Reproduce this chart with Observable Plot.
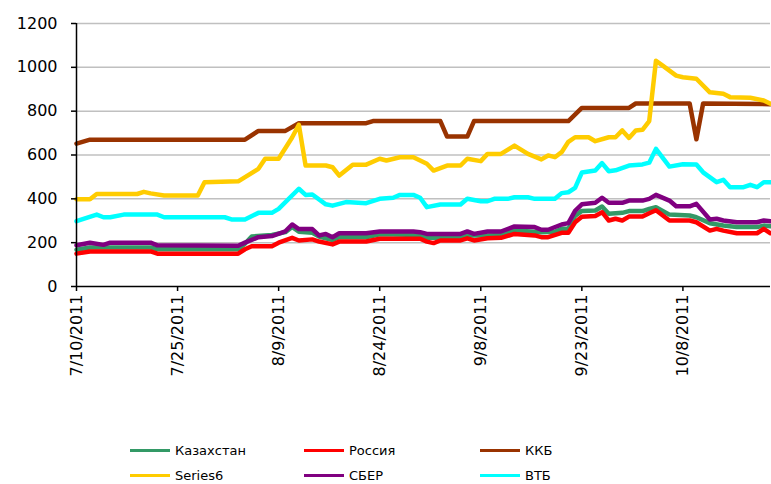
<!DOCTYPE html>
<html><head><meta charset="utf-8">
<script src="https://cdn.jsdelivr.net/npm/d3@7"></script>
<script src="https://cdn.jsdelivr.net/npm/@observablehq/plot@0.6"></script>
<style>
body{margin:0;background:#fff;font-family:"DejaVu Sans",Verdana,sans-serif;}
#wrap{position:relative;width:771px;height:484px;}
#legend{position:absolute;left:0;top:0;width:771px;height:484px;pointer-events:none;}
.li{position:absolute;display:flex;align-items:center;font-size:13px;color:#000;height:20px;}
.sw{width:40px;height:3px;margin-right:5px;}
</style></head>
<body><div id="wrap"><div id="chart"></div><div id="legend"></div></div>
<script>
const seriesNames = ["Казахстан","Россия","ККБ","Series6","СБЕР","ВТБ"];
const seriesColors = ["#339966","#ff0000","#993300","#ffcc00","#800080","#00ffff"];
const xTickLabels = ["7/10/2011","7/25/2011","8/9/2011","8/24/2011","9/8/2011","9/23/2011","10/8/2011"];
const yTicks = [0,200,400,600,800,1000,1200];
const startDate = "7/10/2011";
const endDate = "10/21/2011";

// days since 7/10/2011 and values at the visible vertices of each line
const kazDays   = [0,2,11,12,24,25,26,29,31,32,33,35,36,38,39,43,45,51,52,54,57,58,61,63,65,68,69,71,72,73,74,75,77,78,79,81,82,84,85,86,88,91,92,94,96,98,101,102,103];
const kazValues = [168,178,178,170,170,195,228,235,248,272,250,245,228,212,225,225,238,235,222,222,222,233,233,235,256,250,247,250,263,263,322,345,347,365,332,336,344,344,354,362,328,324,316,289,278,271,271,278,275];

const rusDays   = [0,2,11,12,24,25,26,29,30,32,33,35,36,38,39,43,45,51,52,53,54,57,58,59,61,63,65,68,69,70,72,73,74,75,77,78,79,80,81,82,84,85,86,88,91,92,94,95,96,98,101,102,103];
const rusValues = [150,160,160,150,150,170,184,184,200,222,210,215,205,192,205,205,218,218,205,198,210,210,220,210,220,222,240,233,225,225,245,245,293,318,322,339,301,309,301,319,319,334,348,301,301,293,255,263,255,243,243,263,243];

const kkbDays   = [0,2,25,27,31,33,43,44,54,55,58,59,73,75,82,83,91,92,93,103];
const kkbValues = [652,670,670,710,710,745,745,755,755,684,684,755,755,815,815,835,835,672,835,832];

const s6Days   = [0,2,3,9,10,11,13,18,19,24,27,28,30,32,33,34,37,38,39,41,43,45,46,48,50,52,53,55,57,58,60,61,63,65,67,69,70,71,72,73,74,76,77,79,80,81,82,83,84,85,86,87,89,90,92,94,96,97,100,102,103];
const s6Values = [398,398,422,422,432,425,415,415,476,480,537,583,583,680,738,552,552,544,506,556,556,583,575,590,590,560,529,552,552,583,572,605,605,643,605,580,598,590,613,660,681,681,663,681,681,712,678,712,715,755,1030,1008,962,955,948,886,879,864,861,849,834];

const sberDays   = [0,2,4,5,11,12,24,25,27,29,31,32,33,35,36,37,38,39,43,45,50,51,52,57,58,59,61,63,65,68,69,70,72,73,74,75,77,78,79,81,82,84,85,86,88,89,91,92,94,95,96,98,101,102,103];
const sberValues = [188,200,190,200,200,188,186,200,225,230,252,283,262,262,233,240,225,243,243,251,251,248,240,240,251,240,251,251,274,271,259,259,283,289,345,375,382,405,382,382,392,392,400,418,392,366,366,377,306,309,301,293,293,301,298];

const vtbDays   = [0,3,4,5,7,12,13,22,23,25,27,29,30,33,34,35,37,38,40,43,45,47,48,50,51,52,54,57,58,60,61,62,64,65,67,68,71,72,73,74,75,77,78,79,80,82,84,85,86,88,90,92,93,95,96,97,99,100,101,102,103];
const vtbValues = [298,328,316,316,328,328,316,316,306,306,336,336,354,446,418,420,375,369,385,380,400,405,418,418,405,362,374,374,400,389,389,400,400,407,407,400,400,426,430,450,520,529,563,526,530,552,557,565,628,547,558,557,521,476,487,453,453,464,453,476,476];

const parse = d3.utcParse("%m/%d/%Y");
const fmt = d3.utcFormat("%-m/%-d/%Y");
const t0 = parse(startDate);
const allDays = [kazDays, rusDays, kkbDays, s6Days, sberDays, vtbDays];
const allValues = [kazValues, rusValues, kkbValues, s6Values, sberValues, vtbValues];
const tables = seriesNames.map((name, i) =>
  allDays[i].map((d, j) => ({series: name, date: d3.utcDay.offset(t0, d), value: allValues[i][j]})));

const chart = Plot.plot({
  width: 771, height: 430,
  marginLeft: 76, marginTop: 23, marginRight: 1, marginBottom: 144,
  style: {fontFamily: '"DejaVu Sans", Verdana, sans-serif', fontSize: "16px", color: "#000", background: "#fff"},
  x: {type: "utc", domain: [t0, parse(endDate)]},
  y: {domain: [0, 1200]},
  color: {domain: seriesNames, range: seriesColors},
  marks: [
    Plot.gridY(yTicks.filter(v => v > 0), {stroke: "#c0c0c0", strokeOpacity: 1, strokeWidth: 1.5}),
    ...tables.map(t => Plot.line(t, {x: "date", y: "value", stroke: "series", strokeWidth: 4.5})),
    Plot.ruleY([0], {stroke: "#000", strokeWidth: 1.5}),
    Plot.ruleX([t0], {stroke: "#000", strokeWidth: 1.5}),
    Plot.axisY({ticks: yTicks, tickFormat: d => String(d), tickSize: 5, tickPadding: 14, fontSize: 16, stroke: "#000", strokeWidth: 1.5, label: null}),
    Plot.axisX({ticks: xTickLabels.map(parse), tickFormat: fmt, tickRotate: -90, tickSize: 5, tickPadding: 3, fontSize: 16, stroke: "#000", strokeWidth: 1.5, label: null})
  ]
});
document.getElementById("chart").appendChild(chart);

const legendPos = [[130,450],[304,450],[480,450],[130,475],[304,475],[480,475]];
const leg = document.getElementById("legend");
seriesNames.forEach((name, i) => {
  const el = document.createElement("div");
  el.className = "li";
  el.style.left = legendPos[i][0] + "px";
  el.style.top = (legendPos[i][1] - 10) + "px";
  el.innerHTML = `<div class="sw" style="background:${seriesColors[i]}"></div><span>${name}</span>`;
  leg.appendChild(el);
});
</script></body></html>
